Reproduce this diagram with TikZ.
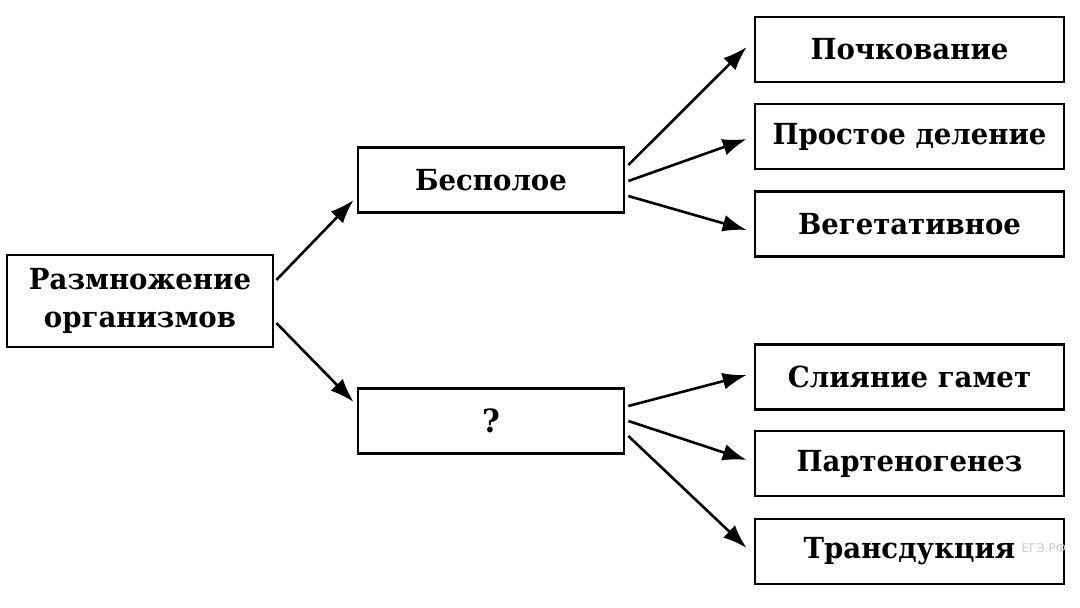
\documentclass[tikz,border=0pt]{standalone}
\usepackage{fontspec}
\setmainfont{DejaVu Serif}[FakeStretch=0.95]
\newfontfamily\wmfont{DejaVu Sans}
\usetikzlibrary{arrows.meta}
\begin{document}
\begin{tikzpicture}[x=1pt,y=-1pt,
  box/.style={draw, line width=2.7pt, inner sep=0pt, align=center,
    minimum height=65pt, font=\fontsize{29}{38}\selectfont\bfseries},
  midbox/.style={box, minimum width=266pt},
  leafbox/.style={box, minimum width=309pt},
  arr/.style={-{Latex[length=24pt,width=17pt]}, line width=2.6pt}]
\useasboundingbox (0,0) rectangle (1080,608);
\fill[white] (0,0) rectangle (1080,608);
\node[box, minimum width=266pt, minimum height=92pt] (root) at (140,301) {Размножение\\организмов};
\node[midbox] (bes) at (491,180) {Бесполое};
\node[midbox] (q) at (491,421) {\fontsize{32}{38}\selectfont ?};
\node[leafbox] (l1) at (909.5,49.5) {Почкование};
\node[leafbox] (l2) at (909.5,136.5) {Простое деление};
\node[leafbox] (l3) at (909.5,224) {Вегетативное};
\node[leafbox] (l4) at (909.5,377) {Слияние гамет};
\node[leafbox] (l5) at (909.5,463.5) {Партеногенез};
\node[leafbox] (l6) at (909.5,551.5) {Трансдукция};
\node[text=black!20, font=\wmfont\fontsize{12}{14}\selectfont, anchor=west] (wm) at (1018,548) {ЕГЭ.РФ};
\draw[arr] ([xshift=2pt,yshift=21pt]root.east) -- ([xshift=-3pt,yshift=-20pt]bes.west);
\draw[arr] ([xshift=2pt,yshift=-22pt]root.east) -- ([xshift=-3pt,yshift=19pt]q.west);
\draw[arr] ([xshift=3pt,yshift=15pt]bes.east) -- ([xshift=-7pt,yshift=2.5pt]l1.west);
\draw[arr] ([xshift=3pt,yshift=-1pt]bes.east) -- ([xshift=-7pt,yshift=-2.5pt]l2.west);
\draw[arr] ([xshift=3pt,yshift=-16pt]bes.east) -- ([xshift=-7pt,yshift=-6pt]l3.west);
\draw[arr] ([xshift=3pt,yshift=15pt]q.east) -- ([xshift=-7pt,yshift=2pt]l4.west);
\draw[arr] ([xshift=3pt,yshift=0pt]q.east) -- ([xshift=-7pt,yshift=3.5pt]l5.west);
\draw[arr] ([xshift=3pt,yshift=-15pt]q.east) -- ([xshift=-7pt,yshift=3.5pt]l6.west);
\end{tikzpicture}
\end{document}
